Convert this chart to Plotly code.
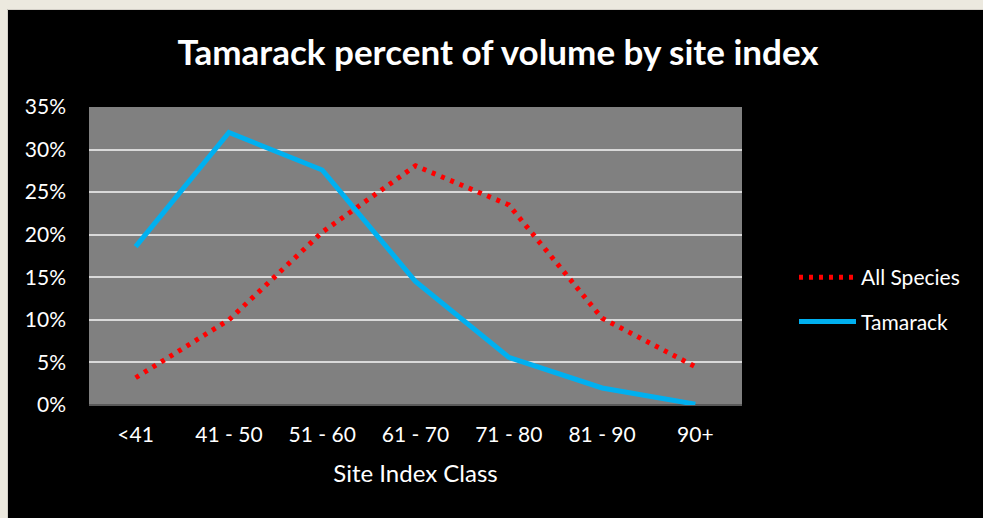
import plotly.graph_objects as go

categories = ["<41", "41 - 50", "51 - 60", "61 - 70", "71 - 80", "81 - 90", "90+"]
all_species = [3.2, 10.0, 20.3, 28.1, 23.5, 10.2, 4.5]
tamarack = [18.6, 32.0, 27.6, 14.5, 5.6, 2.0, 0.1]
y_ticks = [0, 5, 10, 15, 20, 25, 30, 35]
y_tick_labels = [f"{v}%" for v in y_ticks]

W, H = 983, 518
L, R, T, B = 89, 241, 107, 113
pw = W - L - R
ph = H - T - B

def px_x(p):
    return (p - L) / pw

def px_y(p):
    return (H - B - p) / ph

FONT = "Lato"
BEIGE = "#ECE9DF"

fig = go.Figure()
fig.add_trace(go.Scatter(
    x=categories, y=all_species, name="All Species", mode="lines",
    line=dict(color="#FF0000", width=5, dash="4px,6px"),
    legendgroup="a",
))
fig.add_trace(go.Scatter(
    x=categories, y=tamarack, name="Tamarack", mode="lines",
    line=dict(color="#00B0F0", width=5),
    legendgroup="b",
))

fig.update_layout(
    width=W, height=H,
    margin=dict(l=L, r=R, t=T, b=B),
    paper_bgcolor="black",
    plot_bgcolor="#808080",
    font=dict(family=FONT, color="white", size=21),
    title=dict(
        text="<b>Tamarack percent of volume by site index</b>",
        x=498 / W, xanchor="center",
        y=1 - 53 / H, yanchor="middle",
        font=dict(family=FONT, size=35, color="white"),
    ),
    xaxis=dict(
        type="category",
        range=[-0.5, 6.5],
        showgrid=False,
        showline=False,
        ticks="",
        ticklabelstandoff=15,
        tickfont=dict(size=21, color="white"),
        title=dict(text="Site Index Class", font=dict(size=24, color="white"), standoff=20),
        fixedrange=True,
    ),
    yaxis=dict(
        range=[0, 35],
        tickvals=y_ticks,
        ticktext=y_tick_labels,
        showgrid=True,
        gridcolor="#D9D9D9",
        gridwidth=2,
        zeroline=True,
        zerolinecolor="#595959",
        zerolinewidth=2,
        ticks="",
        ticklabelstandoff=22,
        tickfont=dict(size=21, color="white"),
        fixedrange=True,
    ),
    showlegend=True,
    legend=dict(
        x=px_x(794), y=px_y(257), xanchor="left", yanchor="top",
        bgcolor="rgba(0,0,0,0)",
        font=dict(size=21, color="white"),
        tracegroupgap=14,
        itemwidth=57,
    ),
    shapes=[
        dict(type="rect", xref="paper", yref="paper",
             x0=px_x(-5), x1=px_x(7.5), y0=px_y(-5), y1=px_y(H + 5),
             fillcolor=BEIGE, line=dict(width=0), layer="below"),
        dict(type="rect", xref="paper", yref="paper",
             x0=px_x(-5), x1=px_x(W + 5), y0=px_y(-5), y1=px_y(9.5),
             fillcolor=BEIGE, line=dict(width=0), layer="below"),
        dict(type="line", xref="paper", yref="paper",
             x0=px_x(8), x1=px_x(W + 5), y0=px_y(9.5), y1=px_y(9.5),
             line=dict(color="#D4D0C8", width=1), layer="below"),
        dict(type="line", xref="paper", yref="paper",
             x0=px_x(7.5), x1=px_x(7.5), y0=px_y(9.5), y1=px_y(H + 5),
             line=dict(color="#D4D0C8", width=1), layer="below"),
    ],
)

fig.write_html(
    "out.html",
    config={"displayModeBar": False},
    post_script="document.body.style.margin='0';document.body.style.overflow='hidden';",
)
